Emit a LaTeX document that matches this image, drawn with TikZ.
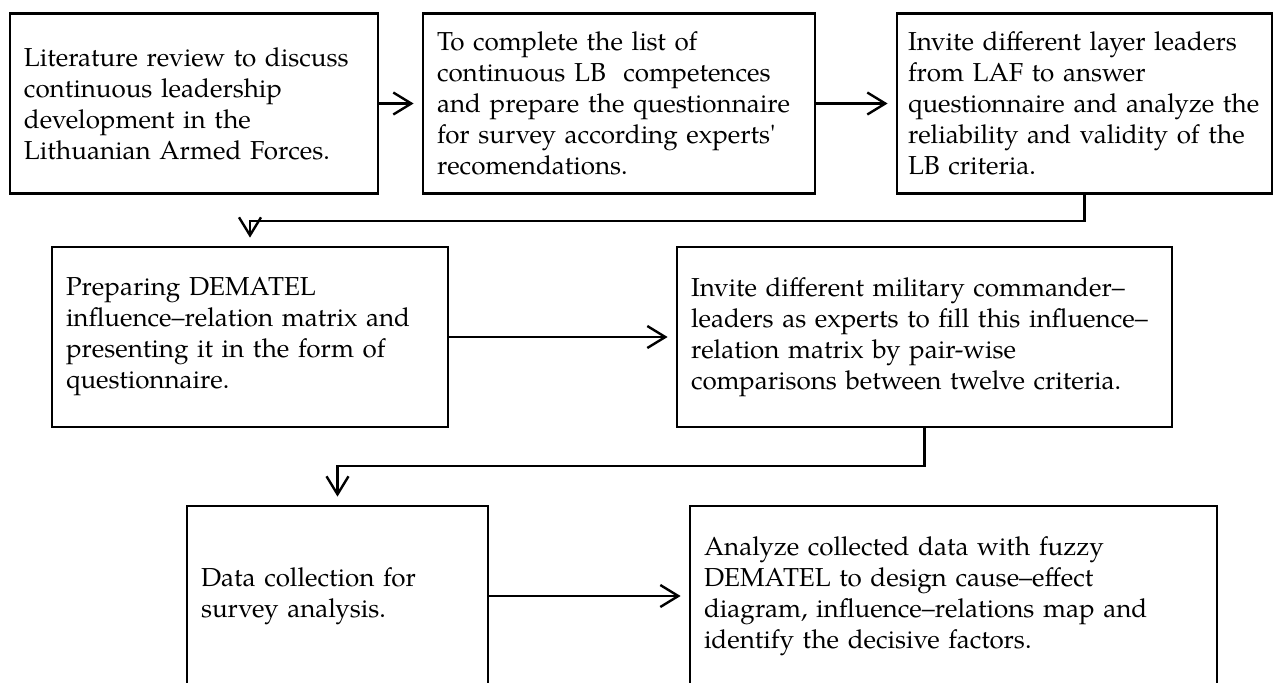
\documentclass[tikz,border=0pt]{standalone}
\usepackage{fontspec}
\setmainfont{TeX Gyre Pagella}
\usepackage{tikz}
\usetikzlibrary{arrows.meta}

\begin{document}
\begin{tikzpicture}[x=0.5pt,y=0.5pt,yscale=-1,xscale=1,
    stepbox/.style={draw, line width=1.4pt, align=left, inner xsep=7pt, inner ysep=0pt,
        minimum height=90pt, font=\fontsize{13}{15.5}\selectfont},
    flow/.style={line width=1.2pt, -{Straight Barb[length=9pt,width=11pt,line width=1.2pt]}, shorten >=4pt}]
    \useasboundingbox (0,0) rectangle (1282,682);
    \clip (0,0) rectangle (1282,682);
    % first row
    \node [stepbox, text width=170pt] (lit) at (194,103.5) {Literature review to discuss\\continuous leadership\\development in the\\Lithuanian Armed Forces.};
    \node [stepbox, text width=182pt] (complete) at (619,103.5) {To complete the list of\\continuous LB\ \ competences\\and prepare the questionnaire\\for survey according experts\textquotesingle\\recomendations.};
    \node [stepbox, inner xsep=5.5pt, text width=176.5pt] (invite) at (1084.5,103.5) {Invite different layer leaders\\from LAF to answer\\questionnaire and analyze the\\reliability and validity of the\\LB criteria.};
    % second row
    \node [stepbox, text width=184pt] (prep) at (250,337) {Preparing DEMATEL\\influence–relation matrix and\\presenting it in the form of\\questionnaire.};
    \node [stepbox, text width=233.5pt] (fill) at (924.5,337) {Invite different military commander–\\leaders as experts to fill this influence–\\relation matrix by pair-wise\\comparisons between twelve criteria.};
    % third row
    \node [stepbox, text width=136.5pt] (collect) at (337.5,596) {Data collection for\\survey analysis.};
    \node [stepbox, text width=249.5pt] (analyze) at (953.5,596) {Analyze collected data with fuzzy\\DEMATEL to design cause–effect\\diagram, influence–relations map and\\identify the decisive factors.};
    \coordinate (bendA) at (250,221);
    \coordinate (bendB) at (337.5,466);
    \draw [flow] (lit) -- (complete);
    \draw [flow] (complete) -- (invite);
    \draw [flow] (invite.south) |- (bendA) -- (prep.north);
    \draw [flow] (prep) -- (fill);
    \draw [flow] (fill.south) |- (bendB) -- (collect.north);
    \draw [flow] (collect) -- (analyze);
\end{tikzpicture}
\end{document}
